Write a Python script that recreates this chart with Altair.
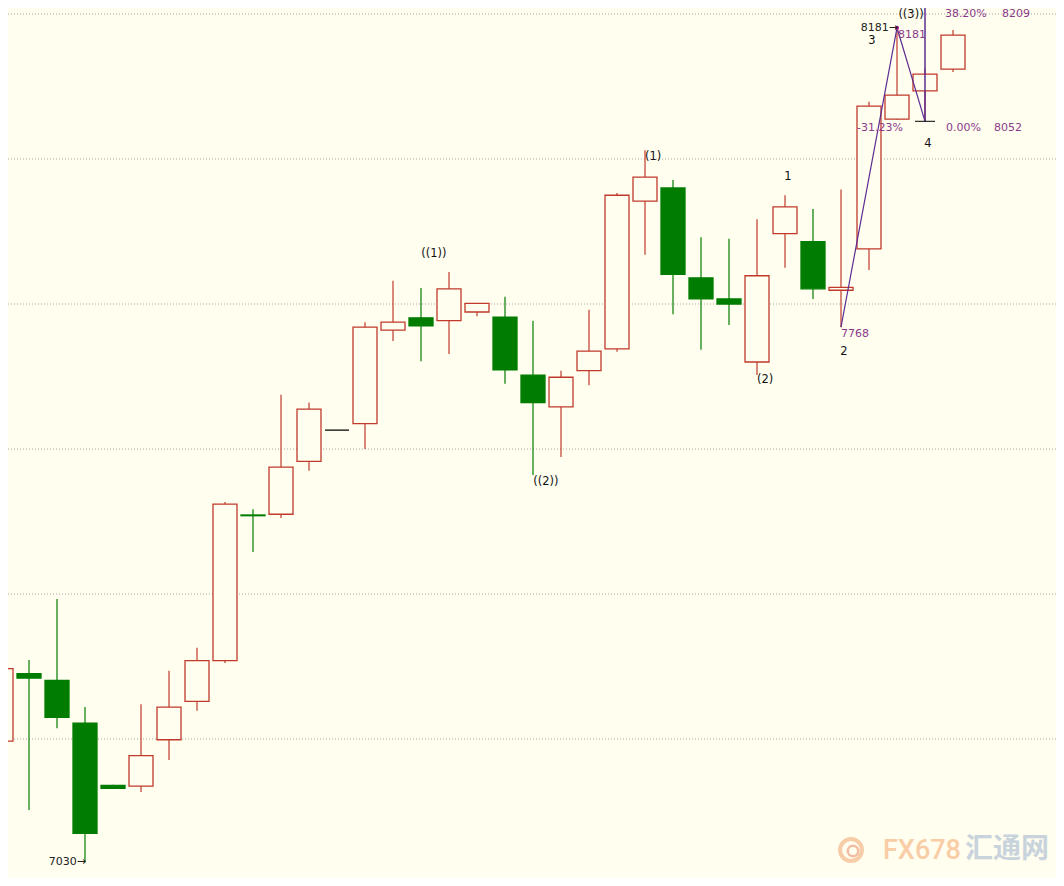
import altair as alt
import pandas as pd

# ---------------- data ----------------
idx = list(range(35))
opens  = [7197, 7290, 7281, 7222, 7136, 7135, 7199, 7252, 7308, 7509, 7510, 7583, 7626, 7635, 7764,
          7781, 7777, 7789, 7782, 7702, 7658, 7708, 7738, 7942, 7960, 7836, 7807, 7720, 7897, 7886,
          7819, 7876, 8055, 8094, 8124]
highs  = [7313, 7309, 7393, 7244, 7137, 7248, 7294, 7326, 7527, 7517, 7675, 7664, 7626, 7775, 7832,
          7822, 7844, 7801, 7810, 7777, 7708, 7792, 7953, 8012, 7971, 7892, 7890, 7917, 7950, 7931,
          7958, 8079, 8181, 8125, 8178]
lows   = [7141, 7102, 7215, 7030, 7131, 7127, 7171, 7239, 7305, 7458, 7505, 7570, 7626, 7600, 7749,
          7721, 7731, 7783, 7690, 7564, 7589, 7688, 7734, 7868, 7786, 7737, 7771, 7702, 7850, 7807,
          7768, 7847, 8054, 8052, 8120]
closes = [7297, 7284, 7230, 7070, 7132, 7177, 7244, 7308, 7524, 7508, 7575, 7655, 7626, 7768, 7775,
          7770, 7821, 7801, 7709, 7664, 7699, 7735, 7950, 7975, 7841, 7807, 7800, 7839, 7934, 7821,
          7823, 8073, 8088, 8117, 8171]

grid_levels = [7200, 7400, 7600, 7800, 8000, 8200]

# Elliott wave line (candle index, price)
wave_idx = [30, 32, 33]
wave_px = [7768, 8181, 8052]

# Fibonacci tool
fib_idx = 33
fib_low = 8052
fib_high = 8209

# wave labels (black, centred)
wl_text = ["((1))", "((2))", "(1)", "(2)", "1", "2", "3", "4", "((3))"]
wl_idx = [15.46, 19.46, 23.29, 27.29, 28.1, 30.1, 31.1, 33.1, 32.5]
wl_px = [7869, 7554, 8003, 7695, 7975, 7734, 8163, 8021, 8199]

# extreme labels with arrow (right aligned)
ar_text = ["7030\u2192", "8181\u2192"]
ar_idx = [3, 32]
ar_px = [7030, 8181]

# purple Fibonacci / price labels (left aligned, top baseline)
fb_text = ["38.20%", "8209", "0.00%", "8052", "-31.23%", "8181", "7768"]
fb_idx = [33.71, 35.75, 33.75, 35.46, 30.57, 32.04, 30.0]
fb_px = [8209, 8209, 8052, 8052, 8052, 8181, 7768]

# ---------------- styling / scales ----------------
BG = "#fffeef"
RED = "#c0392b"
GREEN = "#007d00"
PURPLE_LINE = "#5c2d91"
PURPLE_TXT = "#8b3a8b"

W, H = 1048, 870
# page geometry of the reference: candle i at page x = 1 + 28*i,
# price p at page y = 862.25 - (p - 7030) * 0.725 ; plot starts at page (8, 8)
X0, STEP = 1.0, 28.0
PX_PER_PT, Y_REF, P_REF = 0.725, 862.25, 7030.0
x_dom = [(8 - X0) / STEP, (8 + W - X0) / STEP]
y_dom = [P_REF + (Y_REF - (8 + H)) / PX_PER_PT, P_REF + (Y_REF - 8) / PX_PER_PT]

xs = alt.Scale(domain=x_dom, nice=False, zero=False, padding=0)
ys = alt.Scale(domain=y_dom, nice=False, zero=False, padding=0)

dirs = ["flat" if h == l else ("up" if c >= o else "down")
        for o, h, l, c in zip(opens, highs, lows, closes)]
candles = pd.DataFrame({"i": idx, "open": opens, "high": highs, "low": lows,
                        "close": closes, "dir": dirs})

stroke_scale = alt.Scale(domain=["up", "down", "flat"], range=[RED, GREEN, "#000000"])
fill_scale = alt.Scale(domain=["up", "down", "flat"], range=[BG, GREEN, BG])

base = alt.Chart(candles)

grid = alt.Chart(pd.DataFrame({"lvl": grid_levels})).mark_rule(
    color="#a8a8a8", strokeDash=[1, 2], strokeWidth=1
).encode(y=alt.Y("lvl:Q", scale=ys, axis=None))

wicks = base.mark_rule(strokeWidth=1.2).encode(
    x=alt.X("i:Q", scale=xs, axis=None),
    y=alt.Y("low:Q", scale=ys, axis=None),
    y2="high:Q",
    color=alt.Color("dir:N", scale=stroke_scale, legend=None),
)

bodies = base.mark_bar(size=24, strokeWidth=1.3).encode(
    x=alt.X("i:Q", scale=xs, axis=None),
    y=alt.Y("open:Q", scale=ys, axis=None),
    y2="close:Q",
    fill=alt.Fill("dir:N", scale=fill_scale, legend=None),
    stroke=alt.Stroke("dir:N", scale=stroke_scale, legend=None),
)

wave_df = pd.DataFrame({"i": wave_idx, "p": wave_px, "o": list(range(len(wave_idx)))})
wave = alt.Chart(wave_df).mark_line(color=PURPLE_LINE, strokeWidth=1.2).encode(
    x=alt.X("i:Q", scale=xs, axis=None),
    y=alt.Y("p:Q", scale=ys, axis=None),
    order="o:Q",
)
top_dot = alt.Chart(wave_df[wave_df.p == max(wave_px)]).mark_point(
    filled=True, size=18, color="#c0208a", opacity=1
).encode(x=alt.X("i:Q", scale=xs, axis=None), y=alt.Y("p:Q", scale=ys, axis=None))

fib_df = pd.DataFrame({"i": [fib_idx], "lo": [fib_low], "hi": [fib_high]})
fib_v = alt.Chart(fib_df).mark_rule(color=PURPLE_LINE, strokeWidth=1.5).encode(
    x=alt.X("i:Q", scale=xs, axis=None),
    y=alt.Y("lo:Q", scale=ys, axis=None),
    y2="hi:Q",
)
fib_tick = alt.Chart(fib_df).mark_rule(color="#000000", strokeWidth=1,
                                        xOffset=-10, x2Offset=10).encode(
    x=alt.X("i:Q", scale=xs, axis=None),
    x2="i:Q",
    y=alt.Y("lo:Q", scale=ys, axis=None),
)

FONT = "DejaVu Sans"
wl = alt.Chart(pd.DataFrame({"t": wl_text, "i": wl_idx, "p": wl_px})).mark_text(
    font=FONT, fontSize=11.5, color="#111111", align="center", baseline="middle"
).encode(x=alt.X("i:Q", scale=xs, axis=None), y=alt.Y("p:Q", scale=ys, axis=None), text="t:N")

ar = alt.Chart(pd.DataFrame({"t": ar_text, "i": ar_idx, "p": ar_px})).mark_text(
    font=FONT, fontSize=11, color="#222222", align="right", baseline="middle", dx=1
).encode(x=alt.X("i:Q", scale=xs, axis=None), y=alt.Y("p:Q", scale=ys, axis=None), text="t:N")

fb = alt.Chart(pd.DataFrame({"t": fb_text, "i": fb_idx, "p": fb_px})).mark_text(
    font=FONT, fontSize=11, color=PURPLE_TXT, align="left", baseline="top", dy=1
).encode(x=alt.X("i:Q", scale=xs, axis=None), y=alt.Y("p:Q", scale=ys, axis=None), text="t:N")

# watermark (decoration)
wm_df = pd.DataFrame({"k": [0]})
logo_outer = alt.Chart(wm_df).mark_point(
    shape="circle", filled=False, size=480, stroke="#f6c8a0", strokeWidth=4, opacity=0.9
).encode(x=alt.value(843), y=alt.value(842))
logo_inner = alt.Chart(wm_df).mark_point(
    shape="circle", filled=False, size=110, stroke="#f3b79a", strokeWidth=2.5, opacity=0.9
).encode(x=alt.value(845), y=alt.value(843))
wm1 = alt.Chart(wm_df).mark_text(
    text="FX678", font="Roboto", fontSize=27, fontWeight=500, color="#f9cda6",
    align="left", baseline="middle"
).encode(x=alt.value(875), y=alt.value(843))
wm2 = alt.Chart(wm_df).mark_text(
    text="汇通网", font="Noto Sans CJK SC", fontSize=28, fontWeight="bold",
    color="#c9d3dc", align="left", baseline="middle"
).encode(x=alt.value(957), y=alt.value(842))

chart = alt.layer(
    grid, wicks, bodies, wave, top_dot, fib_v, fib_tick, wl, ar, fb,
    logo_outer, logo_inner, wm1, wm2
).properties(
    width=W, height=H, padding=0, background=BG,
    autosize=alt.AutoSizeParams(type="none"),
).configure_view(stroke=None)

chart.save("out.html", embed_options={"renderer": "svg", "actions": False})
